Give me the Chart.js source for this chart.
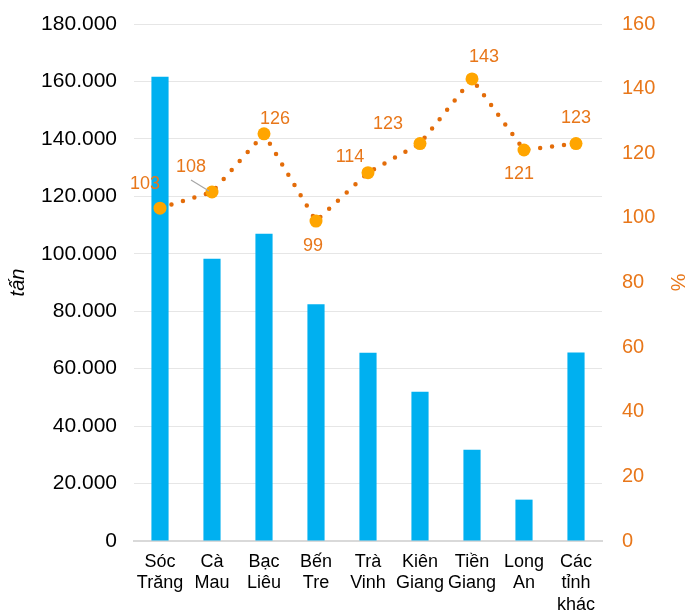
<!DOCTYPE html>
<html>
<head>
<meta charset="utf-8">
<script src="https://cdn.jsdelivr.net/npm/chart.js@4"></script>
<style>
    html, body { margin: 0; padding: 0; background: white; }
    #wrap { width: 685px; height: 614px; }
</style>
</head>
<body>
<div id="wrap"><canvas id="canvasSanLuong" width="685" height="614"></canvas></div>
<script>
const tinhThanh = [["Sóc", "Trăng"], ["Cà", "Mau"], ["Bạc", "Liêu"], ["Bến", "Tre"], ["Trà", "Vinh"], ["Kiên", "Giang"], ["Tiền", "Giang"], ["Long", "An"], ["Các", "tỉnh", "khác"]]
const sanLuong = [161600, 98300, 107000, 82400, 65500, 52000, 31800, 14400, 65600]
const tyLe = [103, 108, 126, 99, 114, 123, 143, 121, 123]

// décalage des étiquettes par rapport au point (px)
const decalageEtiquette = [[-15, -24], [-21, -25], [11, -15], [-3, 25], [-18, -16], [-32, -20], [12, -22], [-5, 24], [0, -26]]
const police = "'Liberation Sans', Arial, sans-serif"
const couleurOrange = "#E8771A"

function formatMillier(v) {
    return String(v).replace(/\B(?=(\d{3})+(?!\d))/g, ".")
}

// plugin maison pour écrire les valeurs du pourcentage
const pluginEtiquettes = {
    id: "etiquettes",
    afterDatasetsDraw(chart) {
        let ctx = chart.ctx
        let meta = chart.getDatasetMeta(1)
        ctx.save()
        ctx.font = "18px " + police
        ctx.fillStyle = couleurOrange
        ctx.textAlign = "center"
        ctx.textBaseline = "middle"
        meta.data.forEach((pt, i) => {
            let dx = decalageEtiquette[i][0]
            let dy = decalageEtiquette[i][1]
            if (i == 1) {
                // petit trait gris pour le 108
                ctx.strokeStyle = "#A6A6A6"
                ctx.lineWidth = 1.2
                ctx.beginPath()
                ctx.moveTo(pt.x + dx, pt.y + dy + 13)
                ctx.lineTo(pt.x - 3, pt.y - 1)
                ctx.stroke()
            }
            ctx.fillText(tyLe[i], pt.x + dx, pt.y + dy)
        })
        ctx.restore()
    }
}

// on force la largeur des axes verticaux et on enlève la marge du haut
function ajusterAxe(largeur) {
    return function(scale) {
        scale.width = largeur
        scale.paddingTop = 0
        scale.paddingBottom = 0
    }
}

let canvas = document.getElementById("canvasSanLuong")
new Chart(canvas, {
    type: "bar",
    data: {
        labels: tinhThanh,
        datasets: [
            {
                label: "Sản lượng",
                data: sanLuong,
                backgroundColor: "#00B0F0",
                categoryPercentage: 1,
                barPercentage: 0.33,
                yAxisID: "y",
                order: 1
            },
            {
                type: "line",
                label: "%",
                data: tyLe,
                yAxisID: "y1",
                borderColor: "#E36C09",
                borderWidth: 4.5,
                borderDash: [0, 12],
                borderCapStyle: "round",
                pointRadius: 6.5,
                pointBackgroundColor: "#FFA500",
                pointBorderWidth: 0,
                tension: 0,
                order: 0
            }
        ]
    },
    options: {
        responsive: false,
        animation: false,
        layout: { padding: { top: 24, left: 0, right: 0, bottom: 0 } },
        plugins: {
            legend: { display: false },
            tooltip: { enabled: false }
        },
        scales: {
            x: {
                grid: { display: false },
                border: { display: true, color: "#D9D9D9", width: 2 },
                ticks: {
                    color: "#000000",
                    font: { family: police, size: 18, lineHeight: 1.2 },
                    padding: 2,
                    maxRotation: 0,
                    autoSkip: false
                },
                afterFit: function(scale) { scale.height = 73 }
            },
            y: {
                position: "left",
                min: 0,
                max: 180000,
                grid: { color: "#E6E6E6", lineWidth: 1, drawTicks: false },
                border: { display: false },
                ticks: {
                    stepSize: 20000,
                    color: "#000000",
                    font: { family: police, size: 21 },
                    padding: 17,
                    callback: function(value) { return formatMillier(value) }
                },
                title: {
                    display: true,
                    text: "tấn",
                    color: "#000000",
                    font: { family: police, size: 20, style: "italic" },
                    padding: { top: 6, bottom: 0 }
                },
                afterFit: ajusterAxe(134)
            },
            y1: {
                position: "right",
                min: 0,
                max: 160,
                grid: { display: false, drawTicks: false },
                border: { display: false },
                ticks: {
                    stepSize: 20,
                    color: couleurOrange,
                    font: { family: police, size: 20 },
                    padding: 20
                },
                title: {
                    display: true,
                    text: "%",
                    color: couleurOrange,
                    font: { family: police, size: 20 },
                    padding: { top: -4, bottom: 0 }
                },
                afterFit: ajusterAxe(83)
            }
        }
    },
    plugins: [pluginEtiquettes]
})
</script>
</body>
</html>
